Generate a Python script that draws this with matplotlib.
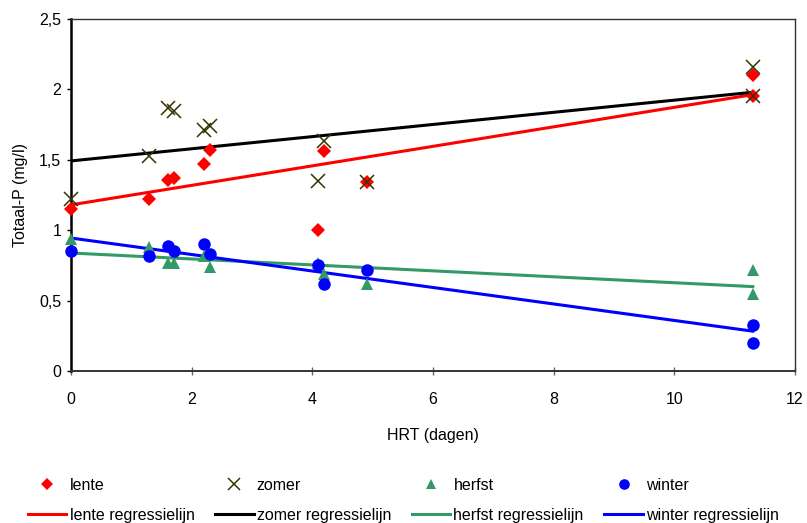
import numpy as np
import matplotlib
matplotlib.use("Agg")
import matplotlib.pyplot as plt
from matplotlib import font_manager
from matplotlib.ticker import FuncFormatter

available = {f.name for f in font_manager.fontManager.ttflist}
if "Liberation Sans Narrow" in available:
    plt.rcParams['font.family'] = ['Liberation Sans Narrow', 'DejaVu Sans']
    FS = 13
else:
    plt.rcParams['font.family'] = ['Liberation Sans', 'DejaVu Sans']
    FS = 11.5

# HRT (dagen) and Totaal-P (mg/l) per seizoen
lente_x = [0, 1.3, 1.6, 1.7, 2.2, 2.3, 4.1, 4.2, 4.9, 11.3, 11.3]
lente_y = [1.15, 1.22, 1.36, 1.37, 1.47, 1.57, 1.00, 1.56, 1.34, 2.10, 1.95]

zomer_x = [0, 1.3, 1.6, 1.7, 2.2, 2.3, 4.1, 4.2, 4.9, 11.3, 11.3]
zomer_y = [1.22, 1.53, 1.87, 1.85, 1.71, 1.74, 1.35, 1.63, 1.34, 2.16, 1.95]

herfst_x = [0, 1.3, 1.6, 1.7, 2.2, 2.3, 4.1, 4.2, 4.9, 11.3, 11.3]
herfst_y = [0.94, 0.88, 0.77, 0.77, 0.82, 0.74, 0.77, 0.69, 0.62, 0.72, 0.55]

winter_x = [0, 1.3, 1.6, 1.7, 2.2, 2.3, 4.1, 4.2, 4.9, 11.3, 11.3]
winter_y = [0.85, 0.82, 0.89, 0.85, 0.90, 0.83, 0.75, 0.62, 0.72, 0.33, 0.20]

seasons = ["lente", "zomer", "herfst", "winter"]
xlabel = "HRT (dagen)"
ylabel = "Totaal-P (mg/l)"

fig = plt.figure(figsize=(8.07, 5.23), dpi=100)
ax = fig.add_axes([71 / 807, 1 - 371 / 523, (795 - 71) / 807, (371 - 19) / 523])

styles = {
    "lente": dict(marker="D", color="#FF0000", ms=7.5, mew=0, line="#FF0000"),
    "zomer": dict(marker="x", color="#333300", ms=10, mew=1.1, line="#000000"),
    "herfst": dict(marker="^", color="#339966", ms=9, mew=0, line="#339966"),
    "winter": dict(marker="o", color="#0000FF", ms=9, mew=0, line="#0000FF"),
}
data = {
    "lente": (lente_x, lente_y),
    "zomer": (zomer_x, zomer_y),
    "herfst": (herfst_x, herfst_y),
    "winter": (winter_x, winter_y),
}

handles = []
for name in seasons:
    xs, ys = np.array(data[name][0]), np.array(data[name][1])
    st = styles[name]
    pts, = ax.plot(xs, ys, linestyle="none", marker=st["marker"], color=st["color"],
                   markersize=st["ms"], markeredgewidth=st["mew"], zorder=4,
                   label=name, clip_on=False)
    slope, intercept = np.polyfit(xs, ys, 1)
    xr = np.array([xs.min(), xs.max()])
    ln, = ax.plot(xr, intercept + slope * xr, color=st["line"], linewidth=2.2,
                  zorder=3, label=f"{name} regressielijn")
    handles += [pts, ln]

ax.set_xlim(0, 12)
ax.set_ylim(0, 2.5)
ax.set_xticks(np.arange(0, 13, 2))
ax.set_yticks(np.arange(0, 2.51, 0.5))
ax.yaxis.set_major_formatter(FuncFormatter(lambda v, p: f"{v:g}".replace(".", ",")))

for side in ["top", "right"]:
    ax.spines[side].set_color("#333333")
    ax.spines[side].set_linewidth(1.0)
ax.spines["left"].set_linewidth(1.8)
ax.spines["left"].set_color("black")
ax.spines["bottom"].set_linewidth(1.4)
ax.spines["bottom"].set_color("#333333")

ax.tick_params(axis="y", direction="out", length=3, width=1, labelsize=FS, pad=4)
ax.tick_params(axis="x", direction="inout", length=6, width=1, labelsize=FS, pad=12,
               color="#666666")

ax.set_xlabel(xlabel, fontsize=FS, labelpad=15)
ax.set_ylabel(ylabel, fontsize=FS, labelpad=8)

fig.legend(handles=handles, loc="lower center", bbox_to_anchor=(0.5, -0.021), ncol=4,
           frameon=False, fontsize=FS, handlelength=2.4, handletextpad=0.2,
           columnspacing=1.3, labelspacing=0.95, numpoints=1, borderaxespad=0.3,
           markerscale=0.85)

fig.savefig("out.png", dpi=100)
